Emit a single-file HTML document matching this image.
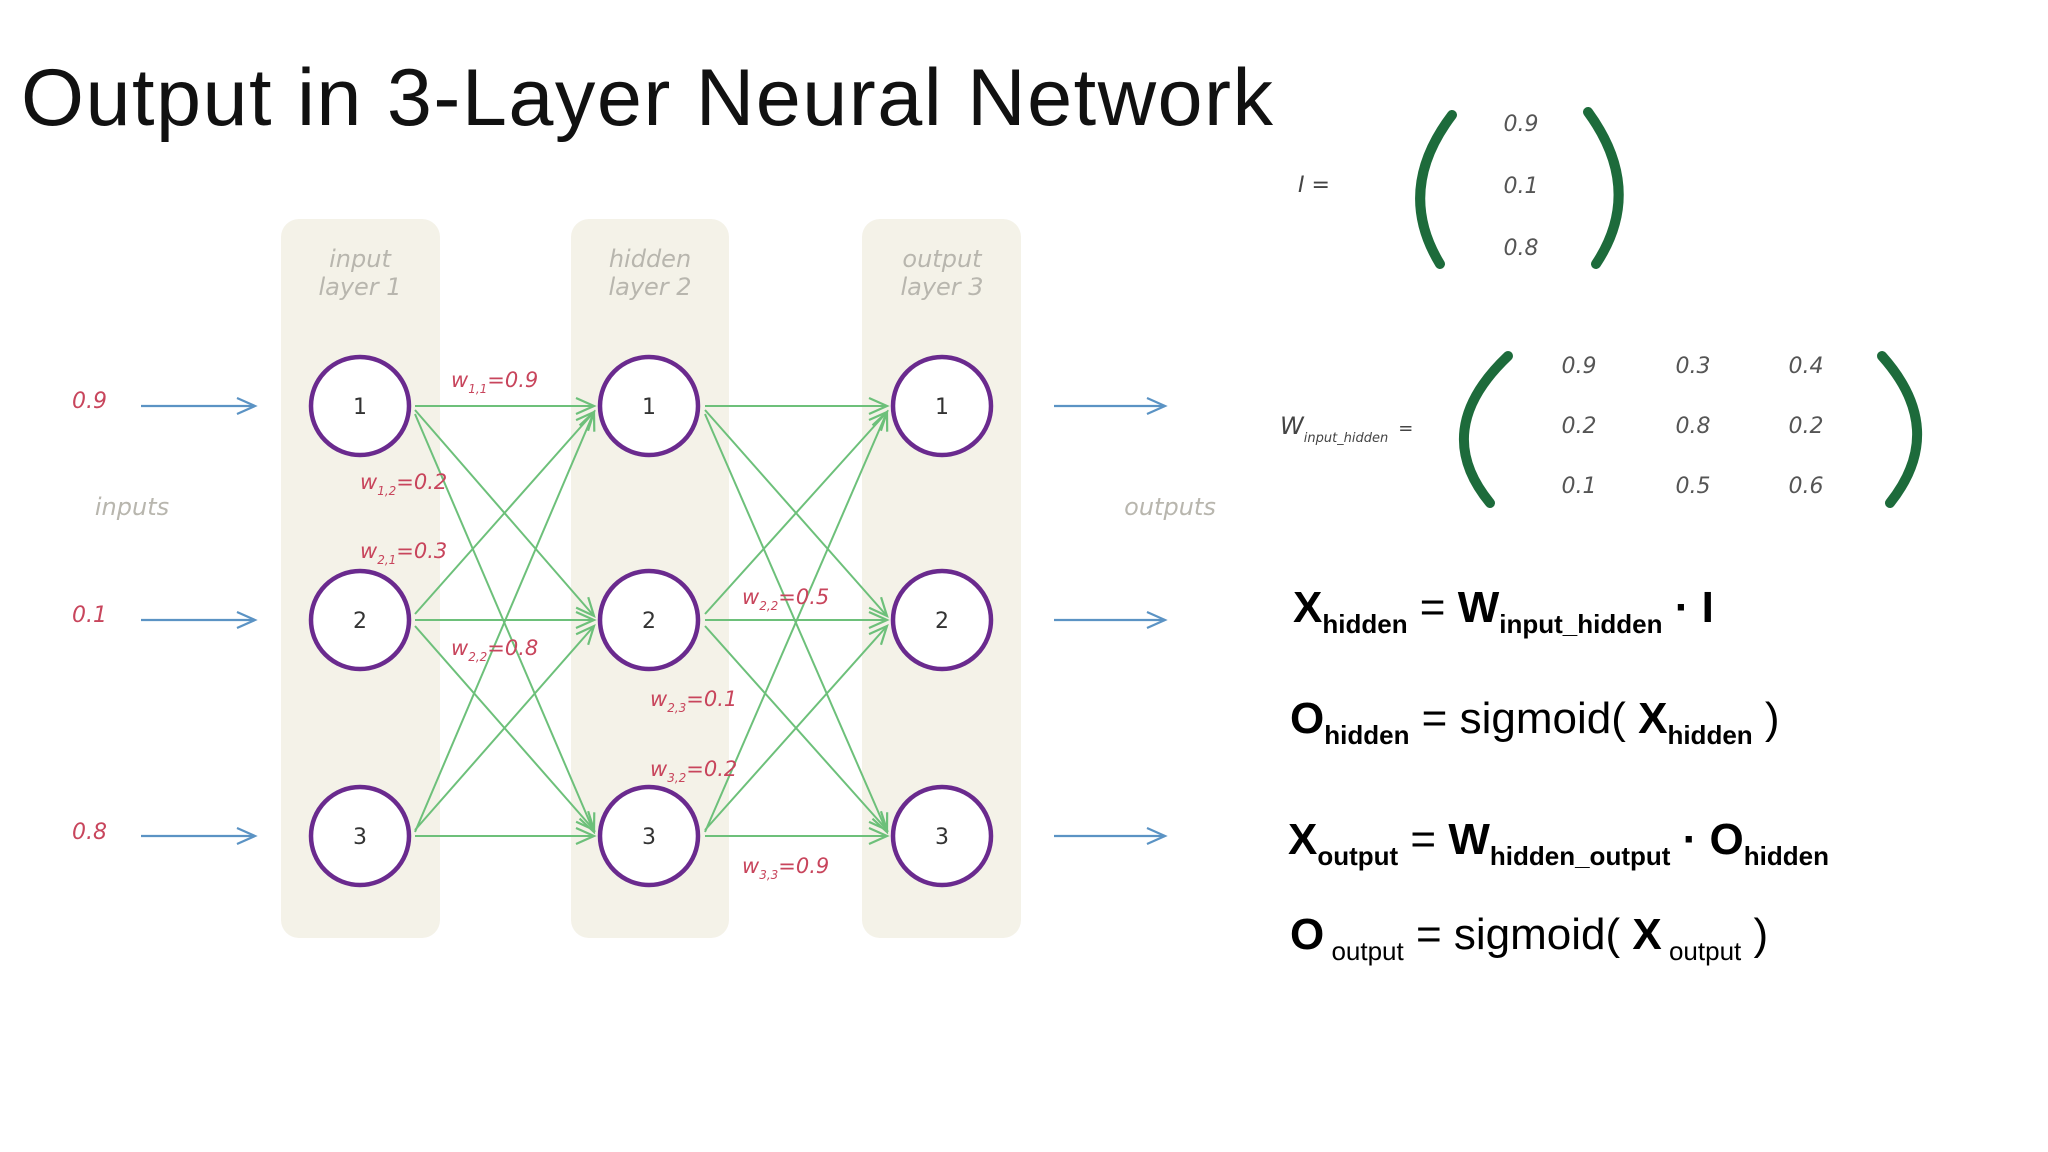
<!DOCTYPE html>
<html><head><meta charset="utf-8"><style>
html,body{margin:0;padding:0;background:#fff;width:2048px;height:1152px;overflow:hidden}
svg{display:block}
</style></head><body>
<svg width="2048" height="1152" viewBox="0 0 2048 1152" xmlns="http://www.w3.org/2000/svg" font-family="Liberation Sans, sans-serif">
<defs>
<marker id="ag" markerWidth="24" markerHeight="20" refX="20" refY="10" orient="auto" markerUnits="userSpaceOnUse">
<path d="M2,2 L20,10 L2,18" fill="none" stroke="#6dc07a" stroke-width="2.2"/></marker>
<marker id="ab" markerWidth="24" markerHeight="20" refX="20" refY="10" orient="auto" markerUnits="userSpaceOnUse">
<path d="M2,2 L20,10 L2,18" fill="none" stroke="#5b93c4" stroke-width="2.2"/></marker>
</defs>
<text x="21" y="125" font-size="81" fill="#111" textLength="1252">Output in 3-Layer Neural Network</text>

<rect x="281" y="219" width="159" height="719" rx="18" fill="#f4f2e8"/>
<rect x="571" y="219" width="158" height="719" rx="18" fill="#f4f2e8"/>
<rect x="862" y="219" width="159" height="719" rx="18" fill="#f4f2e8"/>

<g font-family="DejaVu Sans, sans-serif" font-style="italic" fill="#b8b6ae" font-size="24" text-anchor="middle">
<text x="360" y="267">input</text><text x="360" y="295">layer 1</text>
<text x="650" y="267">hidden</text><text x="650" y="295">layer 2</text>
<text x="942" y="267">output</text><text x="942" y="295">layer 3</text>
<text x="132" y="515">inputs</text><text x="1170" y="515">outputs</text>
</g>

<g stroke="#5b93c4" stroke-width="2.2" marker-end="url(#ab)">
<line x1="141" y1="406" x2="255" y2="406"/><line x1="141" y1="620" x2="255" y2="620"/><line x1="141" y1="836" x2="255" y2="836"/>
<line x1="1054" y1="406" x2="1165" y2="406"/><line x1="1054" y1="620" x2="1165" y2="620"/><line x1="1054" y1="836" x2="1165" y2="836"/>
</g>
<g fill="#c8455c" font-family="DejaVu Sans, sans-serif" font-style="italic" font-size="22">
<text x="72" y="408">0.9</text><text x="72" y="622">0.1</text><text x="72" y="839">0.8</text>
</g>

<g stroke="#6dc07a" stroke-width="2" marker-end="url(#ag)" fill="none">
<line x1="415" y1="406" x2="594" y2="406"/><line x1="415" y1="410" x2="594" y2="616"/><line x1="415" y1="414" x2="594" y2="832"/>
<line x1="415" y1="614" x2="594" y2="412"/><line x1="415" y1="620" x2="594" y2="620"/><line x1="415" y1="626" x2="594" y2="830"/>
<line x1="415" y1="832" x2="594" y2="412"/><line x1="415" y1="830" x2="594" y2="626"/><line x1="415" y1="836" x2="594" y2="836"/>
<line x1="705" y1="406" x2="887" y2="406"/><line x1="705" y1="410" x2="887" y2="616"/><line x1="705" y1="414" x2="887" y2="832"/>
<line x1="705" y1="614" x2="887" y2="412"/><line x1="705" y1="620" x2="887" y2="620"/><line x1="705" y1="626" x2="887" y2="830"/>
<line x1="705" y1="832" x2="887" y2="412"/><line x1="705" y1="830" x2="887" y2="626"/><line x1="705" y1="836" x2="887" y2="836"/>
</g>

<g fill="#fff" stroke="#6a2a8e" stroke-width="4.5">
<circle cx="360" cy="406" r="49"/><circle cx="360" cy="620" r="49"/><circle cx="360" cy="836" r="49"/>
<circle cx="649" cy="406" r="49"/><circle cx="649" cy="620" r="49"/><circle cx="649" cy="836" r="49"/>
<circle cx="942" cy="406" r="49"/><circle cx="942" cy="620" r="49"/><circle cx="942" cy="836" r="49"/>
</g>
<g fill="#333" font-family="DejaVu Sans, sans-serif" font-size="22" text-anchor="middle">
<text x="360" y="414">1</text><text x="360" y="628">2</text><text x="360" y="844">3</text>
<text x="649" y="414">1</text><text x="649" y="628">2</text><text x="649" y="844">3</text>
<text x="942" y="414">1</text><text x="942" y="628">2</text><text x="942" y="844">3</text>
</g>

<g fill="#c8455c" font-family="DejaVu Sans, sans-serif" font-style="italic" font-size="21">
<text x="451" y="387">w<tspan font-size="12" dy="6">1,1</tspan><tspan dy="-6">=0.9</tspan></text>
<text x="360" y="489">w<tspan font-size="12" dy="6">1,2</tspan><tspan dy="-6">=0.2</tspan></text>
<text x="360" y="558">w<tspan font-size="12" dy="6">2,1</tspan><tspan dy="-6">=0.3</tspan></text>
<text x="451" y="655">w<tspan font-size="12" dy="6">2,2</tspan><tspan dy="-6">=0.8</tspan></text>
<text x="742" y="604">w<tspan font-size="12" dy="6">2,2</tspan><tspan dy="-6">=0.5</tspan></text>
<text x="650" y="706">w<tspan font-size="12" dy="6">2,3</tspan><tspan dy="-6">=0.1</tspan></text>
<text x="650" y="776">w<tspan font-size="12" dy="6">3,2</tspan><tspan dy="-6">=0.2</tspan></text>
<text x="742" y="873">w<tspan font-size="12" dy="6">3,3</tspan><tspan dy="-6">=0.9</tspan></text>
</g>

<text x="1298" y="192" font-family="DejaVu Sans, sans-serif" font-style="italic" font-size="22" fill="#444">I =</text>
<g fill="none" stroke="#1d6b3b" stroke-width="10" stroke-linecap="round">
<path d="M1452,115 Q1395,190 1440,264"/><path d="M1588,112 Q1645,190 1596,264"/>
<path d="M1508,356 Q1430,430 1490,503"/><path d="M1882,356 Q1948,430 1890,503"/>
</g>
<g fill="#555" font-family="DejaVu Sans, sans-serif" font-style="italic" font-size="22" text-anchor="middle">
<text x="1521" y="131">0.9</text><text x="1521" y="193">0.1</text><text x="1521" y="255">0.8</text>
<text x="1579" y="373">0.9</text><text x="1693" y="373">0.3</text><text x="1806" y="373">0.4</text>
<text x="1579" y="433">0.2</text><text x="1693" y="433">0.8</text><text x="1806" y="433">0.2</text>
<text x="1579" y="493">0.1</text><text x="1693" y="493">0.5</text><text x="1806" y="493">0.6</text>
</g>
<text x="1280" y="434" font-family="DejaVu Sans, sans-serif" font-style="italic" font-size="24" fill="#444">W<tspan font-size="13" dy="8">input_hidden</tspan><tspan dy="-8" dx="10" font-size="18">=</tspan></text>

<g fill="#000" font-size="44">
<text x="1293" y="622"><tspan font-weight="bold">X</tspan><tspan font-weight="bold" font-size="26" dy="11">hidden</tspan><tspan dy="-11"> = </tspan><tspan font-weight="bold">W</tspan><tspan font-weight="bold" font-size="26" dy="11">input_hidden</tspan><tspan dy="-11" font-weight="bold"> · I</tspan></text>
<text x="1290" y="733"><tspan font-weight="bold">O</tspan><tspan font-weight="bold" font-size="26" dy="11">hidden</tspan><tspan dy="-11"> = sigmoid( </tspan><tspan font-weight="bold">X</tspan><tspan font-weight="bold" font-size="26" dy="11">hidden</tspan><tspan dy="-11"> )</tspan></text>
<text x="1288" y="854"><tspan font-weight="bold">X</tspan><tspan font-weight="bold" font-size="26" dy="11">output</tspan><tspan dy="-11"> = </tspan><tspan font-weight="bold">W</tspan><tspan font-weight="bold" font-size="26" dy="11">hidden_output</tspan><tspan dy="-11" font-weight="bold"> · O</tspan><tspan font-weight="bold" font-size="26" dy="11">hidden</tspan></text>
<text x="1290" y="949"><tspan font-weight="bold">O</tspan><tspan font-size="26" dy="11"> output</tspan><tspan dy="-11"> = sigmoid( </tspan><tspan font-weight="bold">X</tspan><tspan font-size="26" dy="11"> output</tspan><tspan dy="-11"> )</tspan></text>
</g>
</svg>
</body></html>
